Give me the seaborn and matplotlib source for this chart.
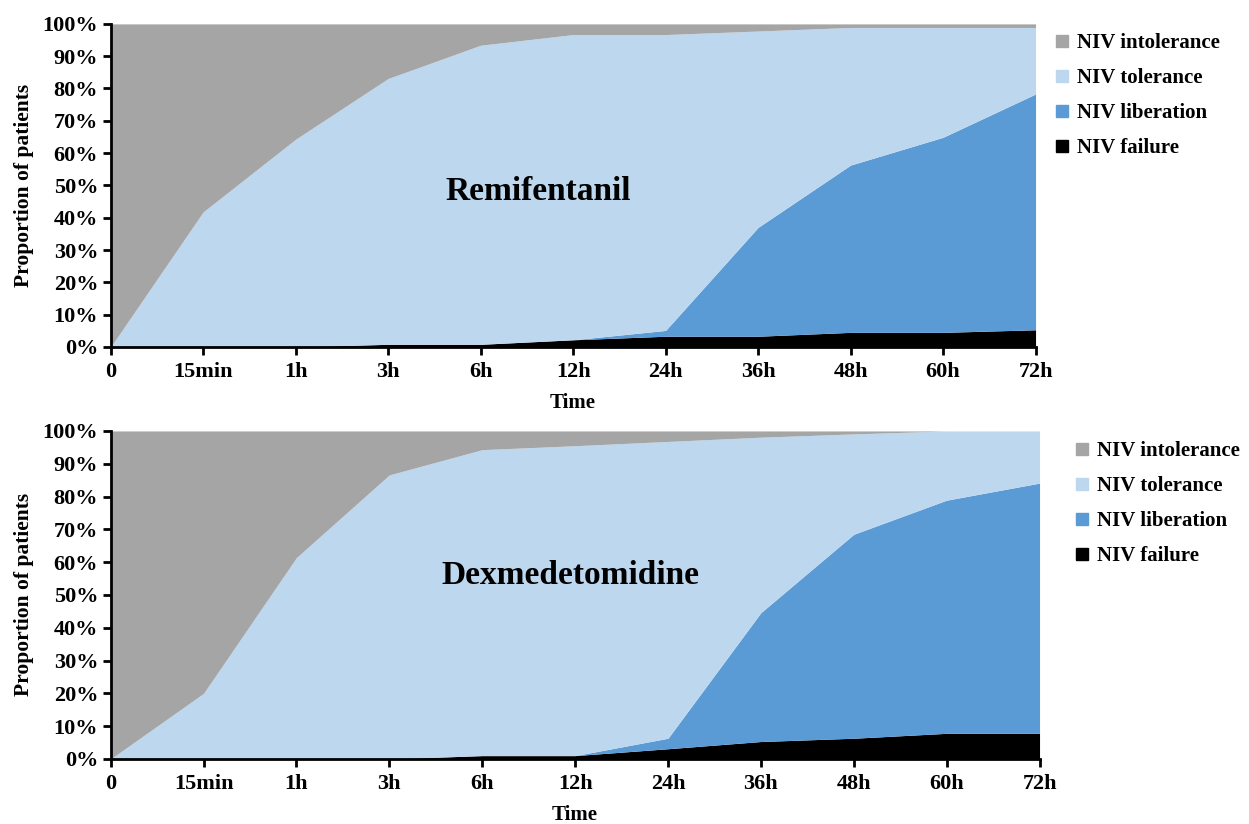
import numpy as np
import pandas as pd
import matplotlib
matplotlib.use("Agg")
import matplotlib.pyplot as plt
import seaborn as sns
from matplotlib.lines import Line2D
from matplotlib.ticker import PercentFormatter

# time points
times = ["0", "15min", "1h", "3h", "6h", "12h", "24h", "36h", "48h", "60h", "72h"]

# Remifentanil (% of patients)
remi_failure = [0, 0, 0, 0.8, 0.8, 2.2, 3.3, 3.3, 4.5, 4.5, 5.3]
remi_liberation = [0, 0, 0, 0, 0, 0, 1.8, 33.7, 51.8, 60.4, 73.0]
remi_tolerance = [0, 41.8, 64.3, 82.3, 92.6, 94.5, 91.6, 60.8, 42.6, 34.0, 20.6]
remi_intolerance = [100, 58.2, 35.7, 16.9, 6.6, 3.3, 3.3, 2.2, 1.1, 1.1, 1.1]

# Dexmedetomidine (% of patients)
dex_failure = [0, 0, 0, 0, 1.0, 1.0, 3.1, 5.3, 6.3, 7.8, 7.8]
dex_liberation = [0, 0, 0, 0, 0, 0, 3.2, 39.3, 62.2, 71.1, 76.3]
dex_tolerance = [0, 20.0, 61.4, 86.6, 93.3, 94.5, 90.5, 53.5, 30.6, 21.1, 15.9]
dex_intolerance = [100, 80.0, 38.6, 13.4, 5.7, 4.5, 3.2, 1.9, 0.9, 0, 0]

groups = ["NIV failure", "NIV liberation", "NIV tolerance", "NIV intolerance"]
colors = ["#000000", "#5B9BD5", "#BDD7EE", "#A5A5A5"]

sns.set_theme(style="white")
plt.rcParams["font.family"] = ["Liberation Serif", "DejaVu Serif"]
plt.rcParams["font.weight"] = "bold"
plt.rcParams["text.color"] = "black"
plt.rcParams["axes.labelcolor"] = "black"
plt.rcParams["xtick.color"] = "black"
plt.rcParams["ytick.color"] = "black"


def make_df(failure, liberation, tolerance, intolerance):
    return pd.DataFrame({"time": times, "NIV failure": failure,
                         "NIV liberation": liberation,
                         "NIV tolerance": tolerance,
                         "NIV intolerance": intolerance})


def draw_panel(ax, df, name, name_xy, legend_xy):
    x = np.arange(len(df))
    ax.stackplot(x, *[df[g] / 100 for g in groups], colors=colors,
                 labels=groups, linewidth=0)
    ax.set_xlim(0, len(df) - 1)
    ax.set_ylim(0, 1)
    ax.set_xticks(x)
    ax.set_xticklabels(df["time"])
    ax.set_yticks(np.linspace(0, 1, 11))
    ax.yaxis.set_major_formatter(PercentFormatter(1.0, decimals=0))
    for lab in ax.get_xticklabels() + ax.get_yticklabels():
        lab.set_fontweight("bold")
        lab.set_fontsize(16)
    ax.tick_params(axis="both", direction="out", length=6, width=2,
                   color="black", bottom=True, left=True, pad=3)
    ax.tick_params(axis="x", pad=5)
    sns.despine(ax=ax)
    for s in ["left", "bottom"]:
        ax.spines[s].set_color("black")
        ax.spines[s].set_linewidth(2)
    ax.set_xlabel("Time", fontsize=15, fontweight="bold", labelpad=8)
    ax.set_ylabel("Proportion of patients", fontsize=15.5, fontweight="bold",
                  labelpad=6)
    ax.text(name_xy[0], name_xy[1], name, transform=ax.transAxes,
            fontsize=24, fontweight="bold", ha="center", va="center",
            color="black")
    handles = [Line2D([], [], marker="s", linestyle="none", markersize=9,
                      markerfacecolor=c, markeredgecolor=c)
               for c in colors[::-1]]
    fig.legend(handles, groups[::-1], loc="upper left",
               bbox_to_anchor=legend_xy, frameon=False,
               prop={"weight": "bold", "size": 15}, handlelength=0.8,
               handletextpad=0.3, labelspacing=0.72, borderaxespad=0)


fig = plt.figure(figsize=(12.49, 8.24), dpi=100)
ax1 = fig.add_axes([0.0886, 0.579, 0.7405, 0.392])
ax2 = fig.add_axes([0.0886, 0.079, 0.7437, 0.398])

draw_panel(ax1, make_df(remi_failure, remi_liberation, remi_tolerance,
                        remi_intolerance),
           "Remifentanil", (0.462, 0.48), (0.837, 0.970))
draw_panel(ax2, make_df(dex_failure, dex_liberation, dex_tolerance,
                        dex_intolerance),
           "Dexmedetomidine", (0.495, 0.56), (0.853, 0.475))

fig.savefig("out.png", dpi=100)
